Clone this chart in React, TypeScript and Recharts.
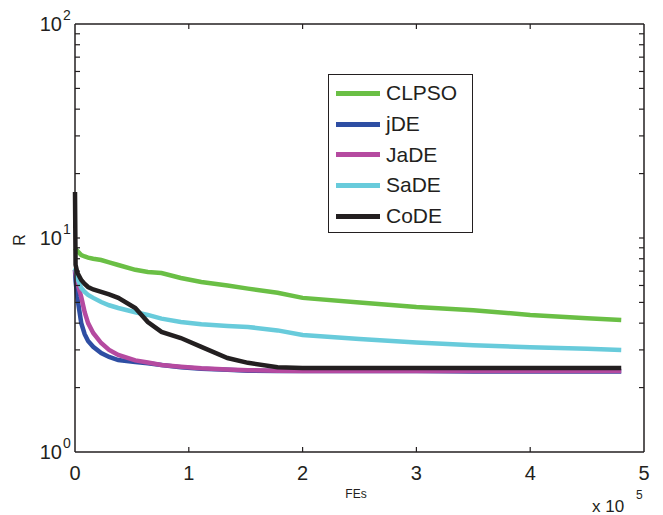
import React from "react";
import {
  LineChart,
  Line,
  XAxis,
  YAxis,
  Legend,
  Customized,
} from "recharts";

// FEs in units of 1e5
const fes = [
  0, 0.005, 0.02, 0.055, 0.085, 0.115, 0.16, 0.23, 0.3, 0.38, 0.53, 0.64,
  0.76, 0.93, 1.11, 1.34, 1.52, 1.78, 2.0, 2.5, 3.0, 3.5, 4.0, 4.5, 4.8,
];

const clpso = [
  8.98, 8.9, 8.7, 8.33, 8.2, 8.1, 8.0, 7.89, 7.7, 7.48, 7.1, 6.93, 6.86, 6.5,
  6.23, 6.0, 5.8, 5.55, 5.25, 5.0, 4.76, 4.6, 4.37, 4.22, 4.14,
];
const jde = [
  7.1, 6.3, 5.3, 4.0, 3.55, 3.3, 3.1, 2.9, 2.78, 2.69, 2.63, 2.6, 2.55, 2.49,
  2.45, 2.42, 2.4, 2.39, 2.39, 2.39, 2.39, 2.38, 2.38, 2.38, 2.38,
];
const jade = [
  7.1, 6.8, 6.2, 5.3, 4.5, 4.0, 3.6, 3.23, 3.0, 2.84, 2.68, 2.62, 2.55, 2.5,
  2.46, 2.43, 2.41, 2.4, 2.39, 2.39, 2.39, 2.39, 2.39, 2.39, 2.39,
];
const sade = [
  7.24, 7.1, 6.5, 5.84, 5.6, 5.42, 5.25, 5.02, 4.85, 4.71, 4.5, 4.37, 4.2,
  4.05, 3.95, 3.88, 3.84, 3.7, 3.52, 3.37, 3.25, 3.15, 3.09, 3.04, 3.0,
];
const code = [
  16.4, 7.5, 6.9, 6.36, 6.1, 5.9, 5.75, 5.6, 5.45, 5.25, 4.71, 4.05, 3.64,
  3.41, 3.1, 2.75, 2.61, 2.49, 2.47, 2.47, 2.47, 2.47, 2.47, 2.47, 2.47,
];

const seriesNames = ["CLPSO", "jDE", "JaDE", "SaDE", "CoDE"];
const seriesValues = [clpso, jde, jade, sade, code];
const COLORS = ["#6abf45", "#2e4ea3", "#b54aa0", "#68cbdb", "#231f20"];

const xTicks = [0, 1, 2, 3, 4, 5];
const yTicks = [
  1, 2, 3, 4, 5, 6, 7, 8, 9, 10, 20, 30, 40, 50, 60, 70, 80, 90, 100,
];

const data = fes.map((fe, i) => {
  const row: Record<string, number> = { fe };
  seriesNames.forEach((name, s) => {
    row[name] = seriesValues[s][i];
  });
  return row;
});

const FONT = "'Liberation Sans', Arial, sans-serif";
const INK = "#231f20";
const TICK = 5;

const LeftTick = (props: any) => {
  const { x, y, payload } = props;
  const v = payload.value;
  const exp = Math.round(Math.log10(v));
  const isDecade = Math.abs(Math.pow(10, exp) - v) < 1e-9;
  const edge = v === 1 || v === 100;
  return (
    <g>
      {!edge && (
        <line x1={x} y1={y} x2={x + TICK} y2={y} stroke={INK} strokeWidth={1.2} />
      )}
      {isDecade && (
        <text fontFamily={FONT} fill={INK}>
          <tspan x={x - 13} y={y + 7} fontSize={20} textAnchor="end">
            10
          </tspan>
          <tspan x={x - 12} y={y - 4} fontSize={14} textAnchor="start">
            {exp}
          </tspan>
        </text>
      )}
    </g>
  );
};

const RightTick = (props: any) => {
  const { x, y, payload } = props;
  const v = payload.value;
  if (v === 1 || v === 100) return <g />;
  return <line x1={x} y1={y} x2={x - TICK} y2={y} stroke={INK} strokeWidth={1.2} />;
};

const BottomTick = (props: any) => {
  const { x, y, payload } = props;
  const v = payload.value;
  const edge = v === 0 || v === 5;
  return (
    <g>
      {!edge && (
        <line x1={x} y1={y} x2={x} y2={y - TICK} stroke={INK} strokeWidth={1.2} />
      )}
      <text
        x={x}
        y={y + 28}
        textAnchor="middle"
        fontSize={20}
        fontFamily={FONT}
        fill={INK}
      >
        {v}
      </text>
    </g>
  );
};

const TopTick = (props: any) => {
  const { x, y, payload } = props;
  const v = payload.value;
  if (v === 0 || v === 5) return <g />;
  return <line x1={x} y1={y} x2={x} y2={y + TICK} stroke={INK} strokeWidth={1.2} />;
};

const LegendBox = (props: any) => {
  const payload: any[] = props.payload || [];
  const ordered = seriesNames
    .map((n) => payload.find((p) => p.value === n))
    .filter(Boolean);
  return (
    <div
      style={{
        width: 143,
        height: 154,
        border: `1.5px solid ${INK}`,
        background: "#fff",
        boxSizing: "content-box",
        paddingTop: 3,
      }}
    >
      {ordered.map((entry: any) => (
        <div
          key={entry.value}
          style={{
            display: "flex",
            alignItems: "center",
            height: 30.7,
          }}
        >
          <div
            style={{
              marginLeft: 7,
              width: 44,
              height: 5,
              background: entry.color,
            }}
          />
          <span
            style={{
              marginLeft: 6,
              fontFamily: FONT,
              fontSize: 21,
              color: INK,
              lineHeight: "30px",
            }}
          >
            {entry.value}
          </span>
        </div>
      ))}
    </div>
  );
};

const Labels = () => (
  <g fontFamily={FONT} fill={INK}>
    <text
      x={25}
      y={240}
      fontSize={16}
      textAnchor="middle"
      transform="rotate(-90, 25, 240)"
    >
      R
    </text>
    <text x={356} y={498} fontSize={12} textAnchor="middle">
      FEs
    </text>
    <text x={592} y={512} fontSize={17}>
      x 10
    </text>
    <text x={636} y={499} fontSize={12}>
      5
    </text>
  </g>
);

export default function App() {
  return (
    <div style={{ position: "absolute", left: 0, top: 0, background: "#fff" }}>
      <LineChart
        width={663}
        height={515}
        data={data}
        margin={{ top: 23, right: 18, bottom: 62, left: 74 }}
      >
        <XAxis
          dataKey="fe"
          type="number"
          domain={[0, 5]}
          ticks={xTicks}
          height={1}
          tickSize={0}
          tickMargin={0}
          tickLine={false}
          axisLine={{ stroke: INK, strokeWidth: 1.5 }}
          tick={<BottomTick />}
          interval={0}
        />
        <XAxis
          xAxisId="top"
          orientation="top"
          dataKey="fe"
          type="number"
          domain={[0, 5]}
          ticks={xTicks}
          height={1}
          tickSize={0}
          tickMargin={0}
          tickLine={false}
          axisLine={{ stroke: INK, strokeWidth: 1.5 }}
          tick={<TopTick />}
          interval={0}
        />
        <YAxis
          scale="log"
          type="number"
          domain={[1, 100]}
          allowDataOverflow
          ticks={yTicks}
          width={1}
          tickSize={0}
          tickMargin={0}
          tickLine={false}
          axisLine={{ stroke: INK, strokeWidth: 1.5 }}
          tick={<LeftTick />}
          interval={0}
        />
        <YAxis
          yAxisId="right"
          orientation="right"
          scale="log"
          type="number"
          domain={[1, 100]}
          allowDataOverflow
          ticks={yTicks}
          width={1}
          tickSize={0}
          tickMargin={0}
          tickLine={false}
          axisLine={{ stroke: INK, strokeWidth: 1.5 }}
          tick={<RightTick />}
          interval={0}
        />
        {seriesNames.map((name, i) => (
          <Line
            key={name}
            dataKey={name}
            name={name}
            type="linear"
            stroke={COLORS[i]}
            strokeWidth={4.5}
            dot={false}
            isAnimationActive={false}
          />
        ))}
        <Legend
          content={<LegendBox />}
          layout="vertical"
          align="center"
          verticalAlign="middle"
          wrapperStyle={{ left: 328, top: 74, width: "auto" }}
        />
        <Customized component={Labels} />
      </LineChart>
    </div>
  );
}
